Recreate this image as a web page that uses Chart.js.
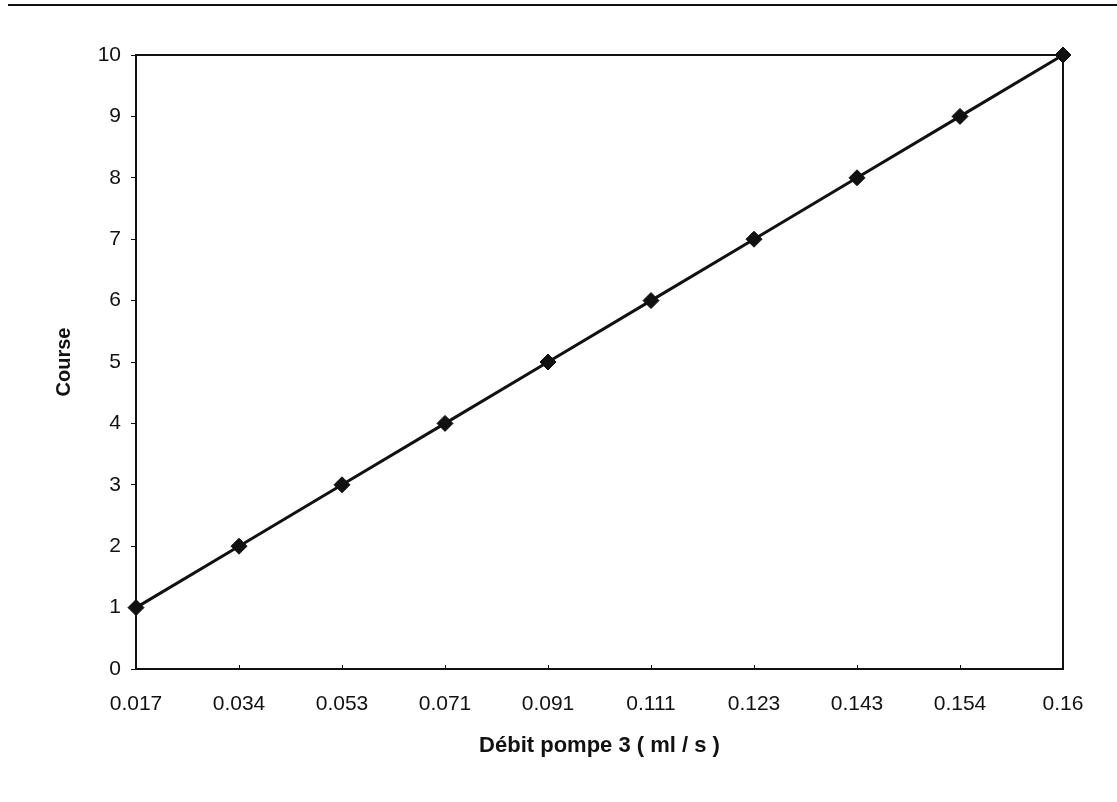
<!DOCTYPE html>
<html>
<head>
<meta charset="utf-8">
<script src="https://cdn.jsdelivr.net/npm/chart.js@4.4.1/dist/chart.umd.min.js"></script>
<style>
  html, body { margin: 0; padding: 0; background: #fff; }
  #wrap { position: relative; width: 1117px; height: 802px; }
  #rule { position: absolute; left: 8px; right: 0; top: 4px; height: 0; border-top: 2px solid #111; }
  canvas { position: absolute; left: 0; top: 0; }
</style>
</head>
<body>
<div id="wrap">
  <div id="rule"></div>
  <canvas id="c" width="1117" height="802"></canvas>
</div>
<script>
// Pump 3 flow rate (ml/s) against stroke setting
const debits = ['0.017', '0.034', '0.053', '0.071', '0.091', '0.111', '0.123', '0.143', '0.154', '0.16'];
const courses = [1, 2, 3, 4, 5, 6, 7, 8, 9, 10];
const yTicks = [0, 1, 2, 3, 4, 5, 6, 7, 8, 9, 10];

const INK = '#111';
const FONT = "'Liberation Sans', Arial, sans-serif";

// Closes the plot area box and adds small inward ticks on the category axis
const frame = {
  id: 'frame',
  afterDraw(chart) {
    const { ctx, chartArea: a, scales } = chart;
    ctx.save();
    ctx.strokeStyle = INK;
    ctx.lineWidth = 2;
    ctx.beginPath();
    ctx.moveTo(a.left, a.top);
    ctx.lineTo(a.right, a.top);
    ctx.lineTo(a.right, a.bottom);
    ctx.stroke();
    ctx.lineWidth = 1;
    const xs = scales.x;
    ctx.beginPath();
    for (let i = 1; i < xs.ticks.length - 1; i++) {
      const px = Math.round(xs.getPixelForTick(i)) + 0.5;
      ctx.moveTo(px, a.bottom);
      ctx.lineTo(px, a.bottom - 4);
    }
    ctx.stroke();
    ctx.restore();
  }
};

new Chart(document.getElementById('c'), {
  type: 'line',
  data: {
    labels: debits,
    datasets: [{
      data: courses,
      borderColor: INK,
      backgroundColor: INK,
      borderWidth: 3,
      pointStyle: 'rectRot',
      pointRadius: 8,
      pointBorderWidth: 1,
      pointBackgroundColor: INK,
      pointBorderColor: INK,
      tension: 0,
      clip: false
    }]
  },
  options: {
    responsive: false,
    animation: false,
    layout: { padding: { top: 55, right: 54, left: 0, bottom: 0 } },
    plugins: { legend: { display: false }, tooltip: { enabled: false } },
    scales: {
      x: {
        type: 'category',
        offset: false,
        grid: { display: false },
        border: { display: true, color: INK, width: 2 },
        ticks: { color: INK, padding: 15, maxRotation: 0, autoSkip: false,
                  font: { family: FONT, size: 21 } },
        title: { display: true, text: 'Débit pompe 3 ( ml / s )', color: INK,
                 font: { family: FONT, size: 22, weight: 'bold' },
                 padding: { top: 0, bottom: 43 } },
        afterFit(s) { s.height = 133; }
      },
      y: {
        min: 0,
        max: 10,
        afterBuildTicks(s) { s.ticks = yTicks.map(v => ({ value: v })); },
        grid: { drawOnChartArea: false, drawTicks: true, tickLength: 5, tickColor: INK, tickWidth: 1 },
        border: { display: true, color: INK, width: 2 },
        ticks: { color: INK, padding: 10, font: { family: FONT, size: 21 } },
        title: { display: true, text: 'Course', color: INK,
                 font: { family: FONT, size: 20, weight: 'bold' },
                 padding: { top: 52, bottom: 0 } },
        afterFit(s) { s.width = 136; }
      }
    }
  },
  plugins: [frame]
});
</script>
</body>
</html>
